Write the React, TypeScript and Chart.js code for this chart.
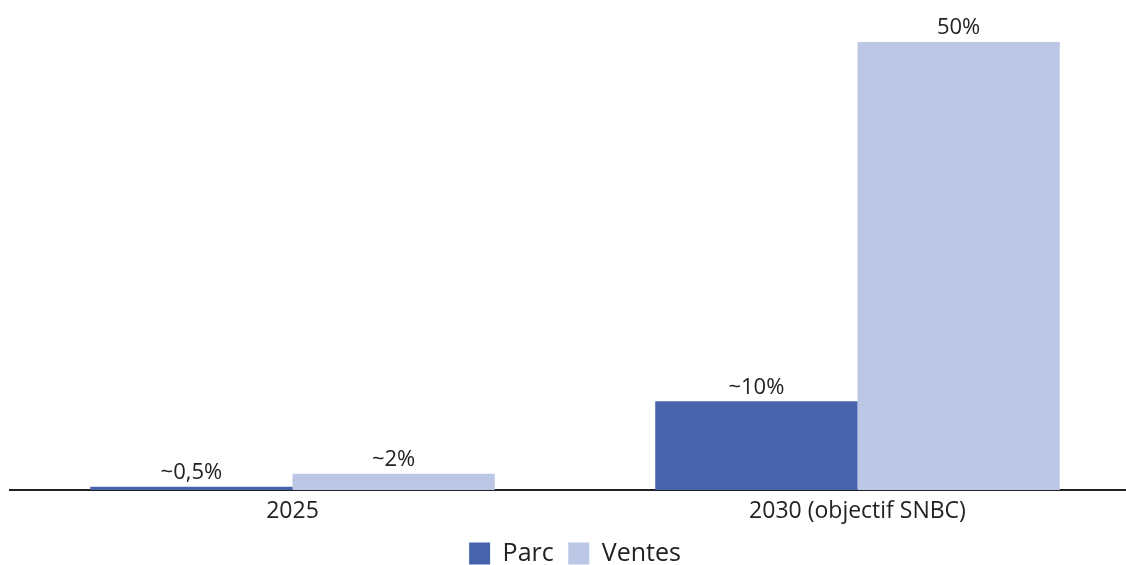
import React, { useEffect, useRef } from "react";
import { Chart, registerables } from "chart.js";

Chart.register(...registerables);

const categories = ["2025", "2030 (objectif SNBC)"];
const parcValues = [0.35, 9.9];
const ventesValues = [1.8, 50];
const parcLabels = ["~0,5%", "~10%"];
const ventesLabels = ["~2%", "50%"];
const seriesNames = ["Parc", "Ventes"];

const FONT = "'Open Sans', 'DejaVu Sans', sans-serif";

const barLabelPlugin = {
  id: "barLabels",
  afterDatasetsDraw(chart: any) {
    const ctx = chart.ctx;
    const labelSets = [parcLabels, ventesLabels];
    chart.data.datasets.forEach((ds: any, di: number) => {
      const meta = chart.getDatasetMeta(di);
      meta.data.forEach((bar: any, i: number) => {
        ctx.save();
        ctx.font = `22px ${FONT}`;
        ctx.fillStyle = "#222";
        ctx.textAlign = "center";
        ctx.textBaseline = "bottom";
        ctx.fillText(labelSets[di][i], bar.x, bar.y - 3);
        ctx.restore();
      });
    });
  },
};

export default function App() {
  const ref = useRef<HTMLCanvasElement>(null);
  useEffect(() => {
    document.body.style.margin = "0";
    document.body.style.overflow = "hidden";
    document.documentElement.style.overflow = "hidden";
    const chart = new Chart(ref.current!, {
      type: "bar",
      data: {
        labels: categories,
        datasets: [
          { label: seriesNames[0], data: parcValues, backgroundColor: "#4763ac" },
          { label: seriesNames[1], data: ventesValues, backgroundColor: "#bbc7e4" },
        ],
      },
      options: {
        animation: false,
        responsive: false,
        maintainAspectRatio: false,
        layout: { padding: { left: 10, right: 0, top: 42, bottom: 0 } },
        datasets: { bar: { barPercentage: 1, categoryPercentage: 0.716 } },
        scales: {
          x: {
            grid: { display: false, drawTicks: false },
            border: { display: true, color: "#222", width: 2 },
            ticks: {
              color: "#222",
              font: { size: 23, family: FONT, lineHeight: 0.74 },
              padding: 13,
            },
          },
          y: { display: false, min: 0, max: 50 },
        },
        plugins: {
          legend: {
            position: "bottom",
            labels: {
              color: "#222",
              font: { size: 25, family: FONT },
              boxWidth: 21,
              boxHeight: 22,
              padding: 8,
              generateLabels(chart: any) {
                const items = Chart.defaults.plugins.legend.labels.generateLabels(chart);
                return items.map((it: any, i: number) => ({
                  ...it,
                  text: i < items.length - 1 ? it.text + " " : it.text,
                }));
              },
            },
          },
          tooltip: { enabled: false },
        },
      },
      plugins: [barLabelPlugin],
    });
    return () => chart.destroy();
  }, []);
  return (
    <div style={{ width: 1140, height: 576, position: "relative" }}>
      <canvas ref={ref} width={1140} height={576} style={{ display: "block" }} />
    </div>
  );
}
